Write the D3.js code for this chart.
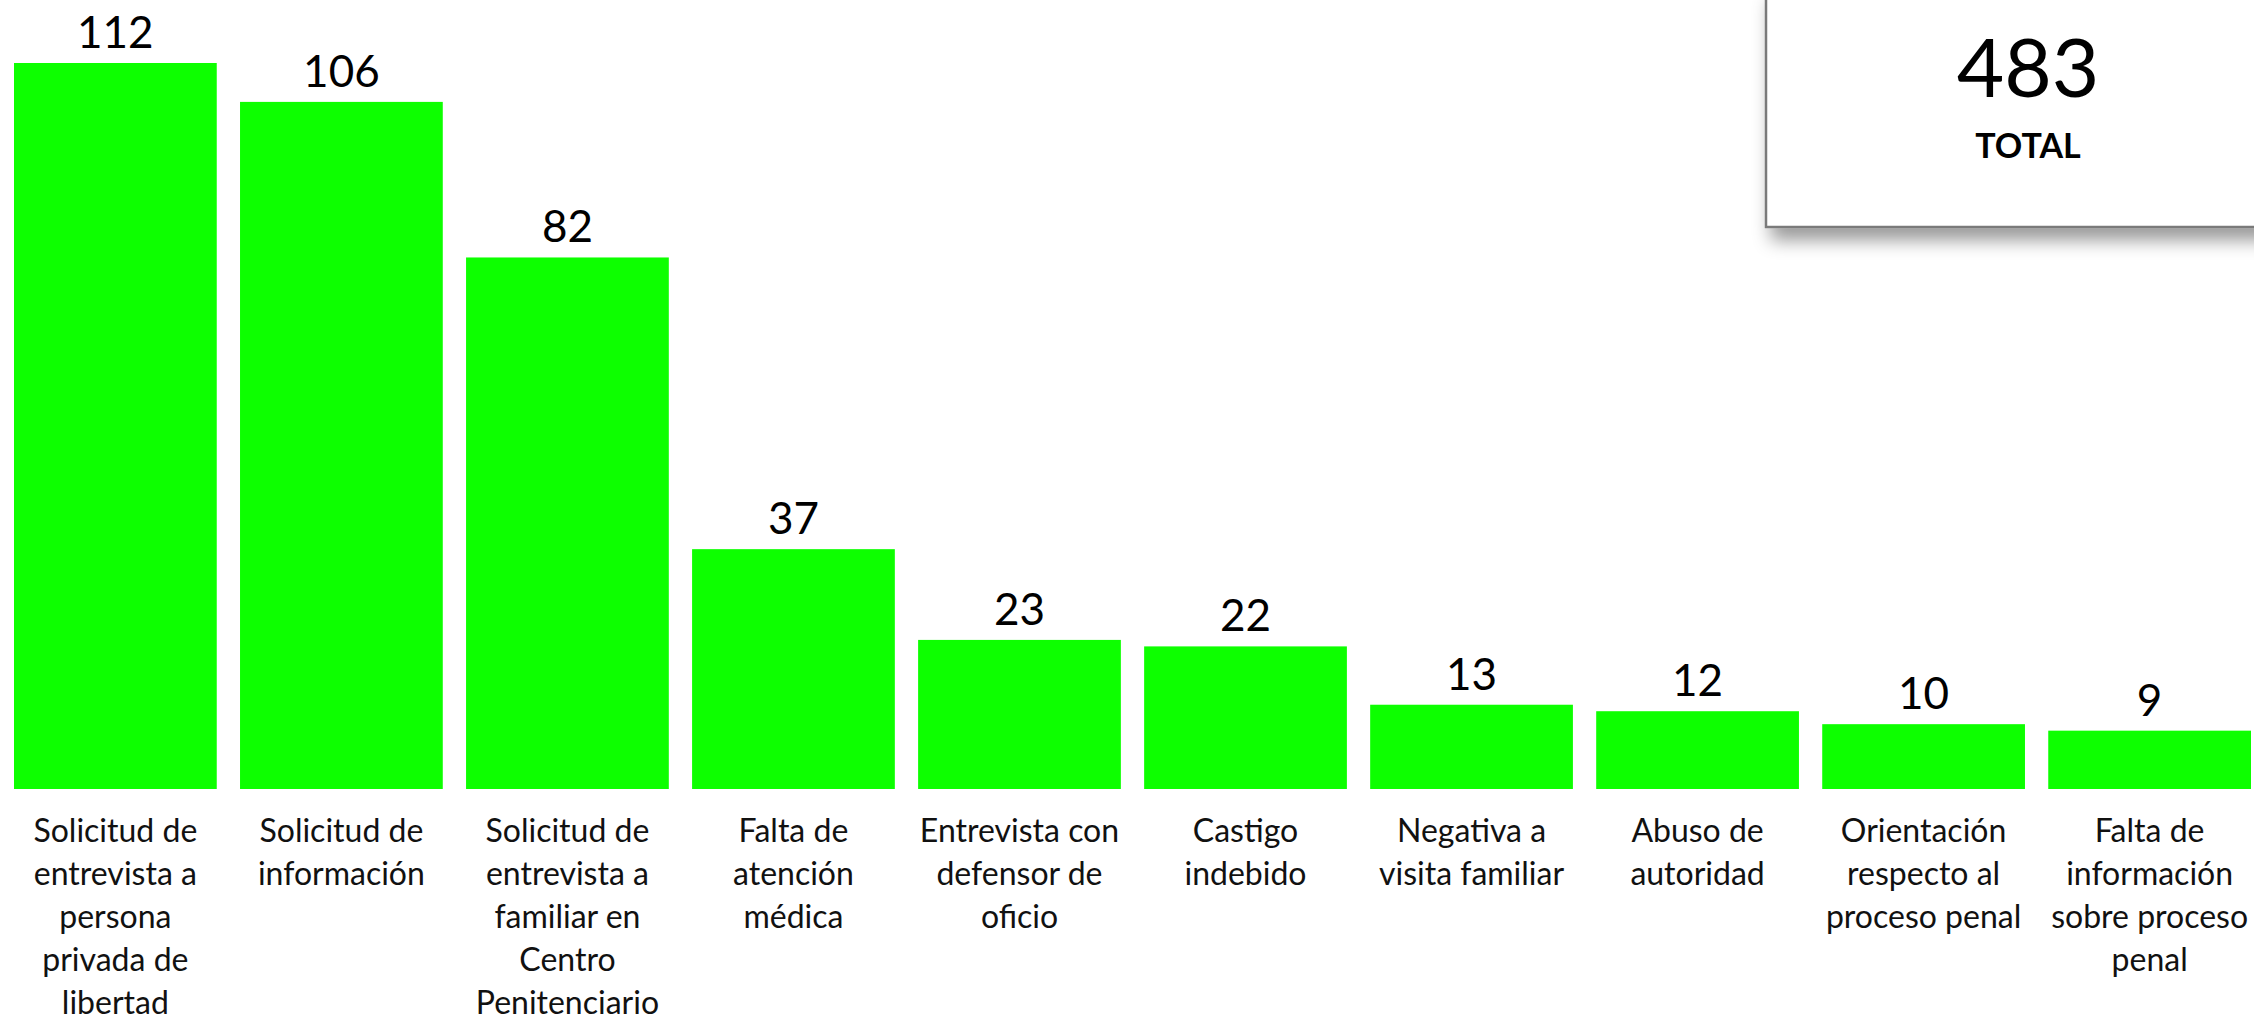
<!DOCTYPE html>
<html>
<head>
<meta charset="utf-8">
<script src="https://cdn.jsdelivr.net/npm/d3@7"></script>
<style>
  body { margin: 0; background: #fff; }
  svg { display: block; font-family: Lato, "Open Sans", sans-serif; }
</style>
</head>
<body>
<svg id="chart" width="2254" height="1020"></svg>
<script>
// categories (one entry per line of the wrapped label)
var categories = [
  ["Solicitud de", "entrevista a", "persona", "privada de", "libertad"],
  ["Solicitud de", "información"],
  ["Solicitud de", "entrevista a", "familiar en", "Centro", "Penitenciario"],
  ["Falta de", "atención", "médica"],
  ["Entrevista con", "defensor de", "oficio"],
  ["Castigo", "indebido"],
  ["Negativa a", "visita familiar"],
  ["Abuso de", "autoridad"],
  ["Orientación", "respecto al", "proceso penal"],
  ["Falta de", "información", "sobre proceso", "penal"]
];
var values = [112, 106, 82, 37, 23, 22, 13, 12, 10, 9];
var totalValue = 483;
var totalLabel = "TOTAL";

var svg = d3.select("#chart");
var baseline = 789;

var x = d3.scaleBand()
    .domain(d3.range(values.length))
    .range([14, 2251])
    .paddingInner(0.103)
    .paddingOuter(0);

var y = d3.scaleLinear()
    .domain([0, 112])
    .range([baseline, 63]);

// bars
svg.append("g")
  .selectAll("rect")
  .data(values)
  .enter()
  .append("rect")
    .attr("x", function(d, i) { return x(i); })
    .attr("y", function(d) { return y(d); })
    .attr("width", x.bandwidth())
    .attr("height", function(d) { return baseline - y(d); })
    .attr("fill", "#0dff00");

// value labels
svg.append("g")
  .selectAll("text")
  .data(values)
  .enter()
  .append("text")
    .attr("x", function(d, i) { return x(i) + x.bandwidth() / 2; })
    .attr("y", function(d) { return y(d) - 15; })
    .attr("text-anchor", "middle")
    .attr("font-size", 44)
    .attr("fill", "#000")
    .text(function(d) { return d; });

// category labels
var cat = svg.append("g")
  .selectAll("text")
  .data(categories)
  .enter()
  .append("text")
    .attr("x", function(d, i) { return x(i) + x.bandwidth() / 2; })
    .attr("y", baseline + 53)
    .attr("text-anchor", "middle")
    .attr("font-size", 32)
    .attr("fill", "#111");

cat.selectAll("tspan")
  .data(function(d) { return d; })
  .enter()
  .append("tspan")
    .attr("x", function() { return this.parentNode.getAttribute("x"); })
    .attr("dy", function(d, j) { return j === 0 ? 0 : 43; })
    .text(function(d) { return d; });

// total box with shadow
var defs = svg.append("defs");
var f = defs.append("filter")
    .attr("id", "shadow")
    .attr("x", "-10%").attr("y", "-10%")
    .attr("width", "130%").attr("height", "150%");
f.append("feDropShadow")
    .attr("dx", 6).attr("dy", 12)
    .attr("stdDeviation", 9)
    .attr("flood-color", "#000")
    .attr("flood-opacity", 0.4);

svg.append("rect")
    .attr("x", 1766)
    .attr("y", -10)
    .attr("width", 560)
    .attr("height", 237)
    .attr("fill", "#fff")
    .attr("stroke", "#7a7a7a")
    .attr("stroke-width", 2.5)
    .attr("filter", "url(#shadow)");

svg.append("text")
    .attr("x", 2028)
    .attr("y", 97)
    .attr("text-anchor", "middle")
    .attr("font-size", 82)
    .attr("fill", "#000")
    .text(totalValue);

svg.append("text")
    .attr("x", 2028)
    .attr("y", 158)
    .attr("text-anchor", "middle")
    .attr("font-size", 34)
    .attr("font-weight", "bold")
    .attr("fill", "#000")
    .text(totalLabel);
</script>
</body>
</html>
